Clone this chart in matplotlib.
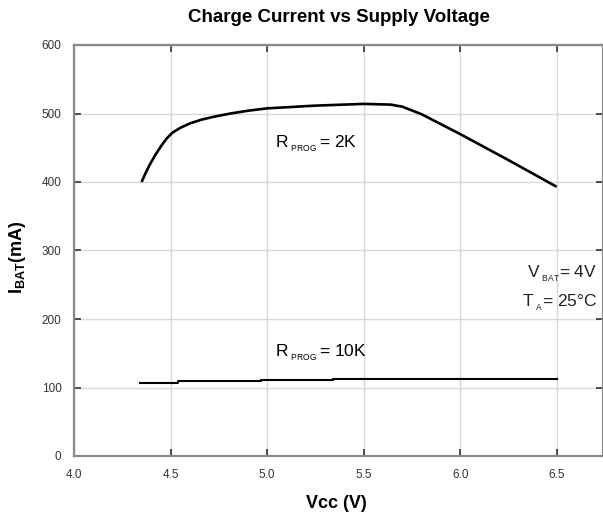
import matplotlib
matplotlib.use("Agg")
import matplotlib.pyplot as plt

plt.rcParams['font.family'] = ['Liberation Sans', 'DejaVu Sans']
plt.rcParams['mathtext.default'] = 'regular'

# R_PROG = 2K curve
vcc_2k = [4.35, 4.37, 4.39, 4.42, 4.45, 4.48, 4.51, 4.55, 4.60, 4.66, 4.72, 4.81,
          4.90, 5.00, 5.25, 5.50, 5.64, 5.70, 5.80, 6.00, 6.25, 6.50]
ibat_2k = [400, 412.5, 424, 439, 452, 463.5, 472, 479, 485.5, 491, 495, 500,
           504, 507.5, 511.5, 514, 513, 510, 499, 470, 432, 393]

# R_PROG = 10K curve (stepped)
vcc_10k = [4.34, 4.54, 4.97, 5.34, 6.50]
ibat_10k = [107, 109, 111, 113, 113]

x_ticks = [4.0, 4.5, 5.0, 5.5, 6.0, 6.5]
x_labels = ["4.0", "4.5", "5.0", "5.5", "6.0", "6.5"]
y_ticks = [0, 100, 200, 300, 400, 500, 600]

fig = plt.figure(figsize=(6.03, 5.17), dpi=100)
ax = fig.add_axes([74 / 603, 1 - 456 / 517, 1 - 74 / 603, (456 - 45) / 517])

ax.plot(vcc_2k, ibat_2k, color='black', lw=1.9, solid_capstyle='butt',
        solid_joinstyle='round')
ax.plot(vcc_10k, ibat_10k, color='black', lw=1.5, drawstyle='steps-post')

ax.set_xlim(4.0, 6.74)
ax.set_ylim(0, 600)
ax.set_xticks(x_ticks, labels=x_labels)
ax.set_yticks(y_ticks)
ax.grid(True, color='#d8d8d8', lw=1.0)
ax.set_axisbelow(True)
ax.tick_params(direction='in', length=5, width=1.2, colors='#333333',
               labelsize=8.5, top=True, right=True)
ax.tick_params(axis='x', pad=9)
ax.tick_params(axis='y', pad=9)
for s in ax.spines.values():
    s.set_color('#8a8a8a')
    s.set_linewidth(1.6)

ax.text(5.04, 451, r"R$\,_{_{PROG}}\,$= 2K", fontsize=12.5, ha='left', va='baseline')
ax.text(5.04, 146, r"R$\,_{_{PROG}}\,$= 10K", fontsize=12.5, ha='left', va='baseline')
ax.text(6.71, 261, r"V$\,_{_{BAT}}$= 4V", fontsize=12.5, ha='right', va='baseline', color='#222222')
ax.text(6.71, 218, r"T$\,_{_{A}}$= 25°C", fontsize=12.5, ha='right', va='baseline', color='#222222')

fig.text(339 / 603, 1 - 17 / 517, "Charge Current vs Supply Voltage",
         fontsize=13.5, fontweight='bold', ha='center', va='center')
fig.text(336 / 603, 1 - 503 / 517, "Vcc (V)", fontsize=13, fontweight='bold',
         ha='center', va='center')
fig.text(17 / 603, 1 - 257 / 517, r"I$_{BAT}$(mA)", fontsize=13, fontweight='bold',
         ha='center', va='center', rotation=90)

fig.savefig("out.png", dpi=100)
